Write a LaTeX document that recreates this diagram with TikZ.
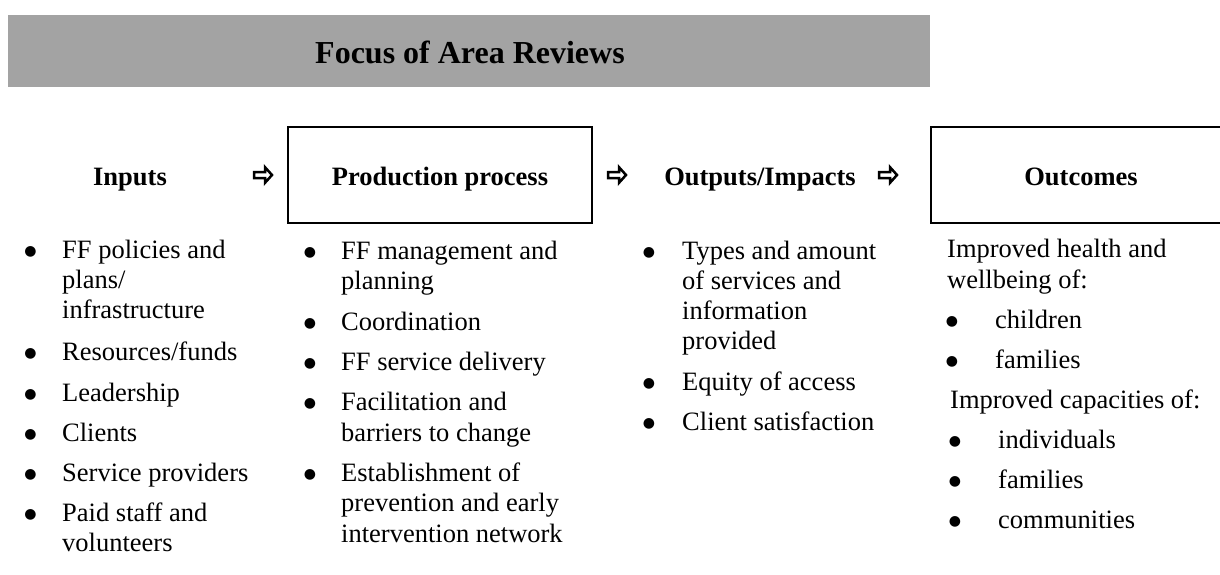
\documentclass[tikz,border=0pt]{standalone}
\usepackage{fontspec}
\setmainfont{Liberation Serif}
\newfontfamily\dvsans{DejaVu Sans}
\definecolor{bargray}{RGB}{163,163,163}
\tikzset{
  body/.style={font=\fontsize{26.5}{30}\selectfont, inner sep=0pt, anchor=base west},
  dot/.style={font=\dvsans\fontsize{14}{15}\selectfont, inner sep=0pt, anchor=base, yshift=3pt},
  head/.style={font=\fontsize{26.5}{30}\selectfont\bfseries, inner sep=0pt, anchor=base},
  hbox/.style={draw, line width=2pt, minimum height=96pt, inner sep=0pt},
  warrow/.pic={\draw[line width=2.5pt, line join=miter] (1.2,3) -- (12,3) -- (12,7.8) -- (19,0) -- (12,-7.8) -- (12,-3) -- (1.2,-3) -- cycle;}
}
\begin{document}
\begin{tikzpicture}[x=1pt,y=1pt]
\useasboundingbox (0,0) rectangle (1220,-574);
\clip (0,0) rectangle (1220,-574);
% title bar
\node[fill=bargray, minimum width=922pt, minimum height=72pt, inner sep=0pt, anchor=north west] (bar) at (8,-15) {};
\node[font=\fontsize{32}{36}\selectfont\bfseries, inner sep=0pt, anchor=base] (title) at (470,-63) {Focus of Area Reviews};
% header row
\node[head] (hin) at (130,-185) {Inputs};
\pic at (253,-175) {warrow};
\node[hbox, minimum width=304pt] (prodbox) at (440,-175) {};
\node[head] (hprod) at (440,-185) {Production process};
\pic at (607,-175) {warrow};
\node[head] (hout) at (760,-185) {Outputs/Impacts};
\pic at (878,-175) {warrow};
\node[hbox, minimum width=300pt] (outbox) at (1081,-175) {};
\node[head] (hoc) at (1081,-185) {Outcomes};
% column 1
\node[dot] (b11) at (30.5,-258) {●};
\node[body] (t11a) at (62,-258) {FF policies and};
\node[body] (t11b) at (62,-288) {plans/};
\node[body] (t11c) at (62,-318) {infrastructure};
\node[dot] (b12) at (30.5,-360) {●};
\node[body] (t12) at (62,-360) {Resources/funds};
\node[dot] (b13) at (30.5,-401) {●};
\node[body] (t13) at (62,-401) {Leadership};
\node[dot] (b14) at (30.5,-441) {●};
\node[body] (t14) at (62,-441) {Clients};
\node[dot] (b15) at (30.5,-481) {●};
\node[body] (t15) at (62,-481) {Service providers};
\node[dot] (b16) at (30.5,-521) {●};
\node[body] (t16a) at (62,-521) {Paid staff and};
\node[body] (t16b) at (62,-551) {volunteers};
% column 2
\node[dot] (b21) at (310,-259) {●};
\node[body] (t21a) at (341,-259) {FF management and};
\node[body] (t21b) at (341,-289) {planning};
\node[dot] (b22) at (310,-330) {●};
\node[body] (t22) at (341,-330) {Coordination};
\node[dot] (b23) at (310,-370) {●};
\node[body] (t23) at (341,-370) {FF service delivery};
\node[dot] (b24) at (310,-410) {●};
\node[body] (t24a) at (341,-410) {Facilitation and};
\node[body] (t24b) at (341,-441) {barriers to change};
\node[dot] (b25) at (310,-481) {●};
\node[body] (t25a) at (341,-481) {Establishment of};
\node[body] (t25b) at (341,-511) {prevention and early};
\node[body] (t25c) at (341,-542) {intervention network};
% column 3
\node[dot] (b31) at (649,-259) {●};
\node[body] (t31a) at (682,-259) {Types and amount};
\node[body] (t31b) at (682,-289) {of services and};
\node[body] (t31c) at (682,-319) {information};
\node[body] (t31d) at (682,-349) {provided};
\node[dot] (b32) at (649,-390) {●};
\node[body] (t32) at (682,-390) {Equity of access};
\node[dot] (b33) at (649,-430) {●};
\node[body] (t33) at (682,-430) {Client satisfaction};
% column 4
\node[body] (t41a) at (947,-257) {Improved health and};
\node[body] (t41b) at (947,-288) {wellbeing of:};
\node[dot] (b42) at (952,-328) {●};
\node[body] (t42) at (995,-328) {children};
\node[dot] (b43) at (952,-368) {●};
\node[body] (t43) at (995,-368) {families};
\node[body] (t44) at (950,-408) {Improved capacities of:};
\node[dot] (b45) at (955,-448) {●};
\node[body] (t45) at (998,-448) {individuals};
\node[dot] (b46) at (955,-488) {●};
\node[body] (t46) at (998,-488) {families};
\node[dot] (b47) at (955,-528) {●};
\node[body] (t47) at (998,-528) {communities};
\end{tikzpicture}
\end{document}
